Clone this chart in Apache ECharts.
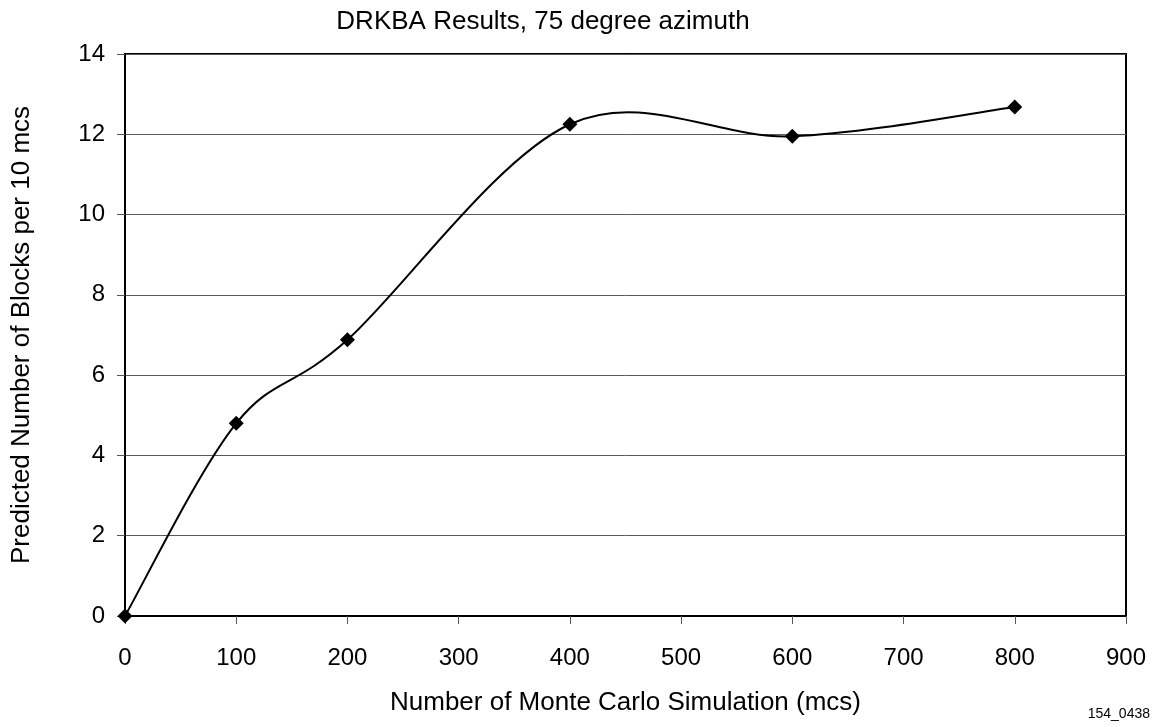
<!DOCTYPE html>
<html>
<head>
<meta charset="utf-8">
<script src="https://cdn.jsdelivr.net/npm/echarts@6/dist/echarts.min.js"></script>
<style>
html,body{margin:0;padding:0;background:#fff;}
#chart{width:1158px;height:727px;}
</style>
</head>
<body>
<div id="chart"></div>
<script>
var xValues = [0, 100, 200, 400, 600, 800];
var yValues = [0, 4.8, 6.88, 12.25, 11.95, 12.68];
var titleText = 'DRKBA Results, 75 degree azimuth';
var xName = 'Number of Monte Carlo Simulation (mcs)';
var yName = 'Predicted Number of Blocks per 10 mcs';
var figId = '154_0438';

var FONT = '"Liberation Sans", Arial, sans-serif';
var chart = echarts.init(document.getElementById('chart'), null, {renderer: 'canvas'});
var points = xValues.map(function (x, i) { return [x, yValues[i]]; });

// Smoothed curve (Catmull-Rom style Bezier, like a spreadsheet "smoothed line"),
// control points derived from the data points mapped through the axes.
function renderSegment(params, api) {
  var i = params.dataIndex;
  var n = points.length;
  if (i >= n - 1) return null;
  var p1 = api.coord(points[i]);
  var p2 = api.coord(points[i + 1]);
  var p0 = i > 0 ? api.coord(points[i - 1]) : p1;
  var p3 = i + 2 < n ? api.coord(points[i + 2]) : p2;
  return {
    type: 'bezierCurve',
    shape: {
      x1: p1[0], y1: p1[1],
      x2: p2[0], y2: p2[1],
      cpx1: p1[0] + (p2[0] - p0[0]) / 6,
      cpy1: p1[1] + (p2[1] - p0[1]) / 6,
      cpx2: p2[0] - (p3[0] - p1[0]) / 6,
      cpy2: p2[1] - (p3[1] - p1[1]) / 6
    },
    style: {stroke: '#000', lineWidth: 2, fill: null}
  };
}

chart.setOption({
  backgroundColor: '#ffffff',
  animation: false,
  title: {
    text: titleText,
    left: 538,
    top: 4,
    textAlign: 'center',
    textStyle: {fontFamily: FONT, fontSize: 26, fontWeight: 'normal', color: '#000'}
  },
  graphic: [{
    type: 'text',
    right: 8,
    bottom: 6,
    style: {text: figId, font: '14px ' + FONT, fill: '#000'}
  }],
  grid: {
    left: 125, right: 32, top: 54, bottom: 111,
    show: true, borderColor: '#000', borderWidth: 2, backgroundColor: 'transparent'
  },
  xAxis: {
    type: 'value',
    min: 0, max: 900, interval: 100,
    name: xName,
    nameLocation: 'middle',
    nameGap: 74,
    nameTextStyle: {fontFamily: FONT, fontSize: 26, color: '#000'},
    axisLine: {show: true, onZero: false, lineStyle: {color: '#000', width: 2}},
    axisTick: {show: true, inside: false, length: 8, lineStyle: {color: '#555', width: 1}},
    axisLabel: {fontFamily: FONT, fontSize: 24, color: '#000', margin: 30},
    splitLine: {show: false}
  },
  yAxis: {
    type: 'value',
    min: 0, max: 14, interval: 2,
    name: yName,
    nameLocation: 'middle',
    nameGap: 90,
    nameRotate: 90,
    nameTextStyle: {fontFamily: FONT, fontSize: 26, color: '#000'},
    axisLine: {show: true, lineStyle: {color: '#000', width: 2}},
    axisTick: {show: true, inside: false, length: 8, lineStyle: {color: '#555', width: 1}},
    axisLabel: {fontFamily: FONT, fontSize: 24, color: '#000', margin: 20},
    splitLine: {show: true, lineStyle: {color: '#5a5a5a', width: 1}}
  },
  series: [{
    type: 'custom',
    data: points,
    encode: {x: 0, y: 1},
    renderItem: renderSegment,
    clip: false,
    z: 2
  }, {
    type: 'scatter',
    data: points,
    symbol: 'diamond',
    symbolSize: 15,
    itemStyle: {color: '#000', opacity: 1},
    clip: false,
    z: 3
  }]
});
</script>
</body>
</html>
